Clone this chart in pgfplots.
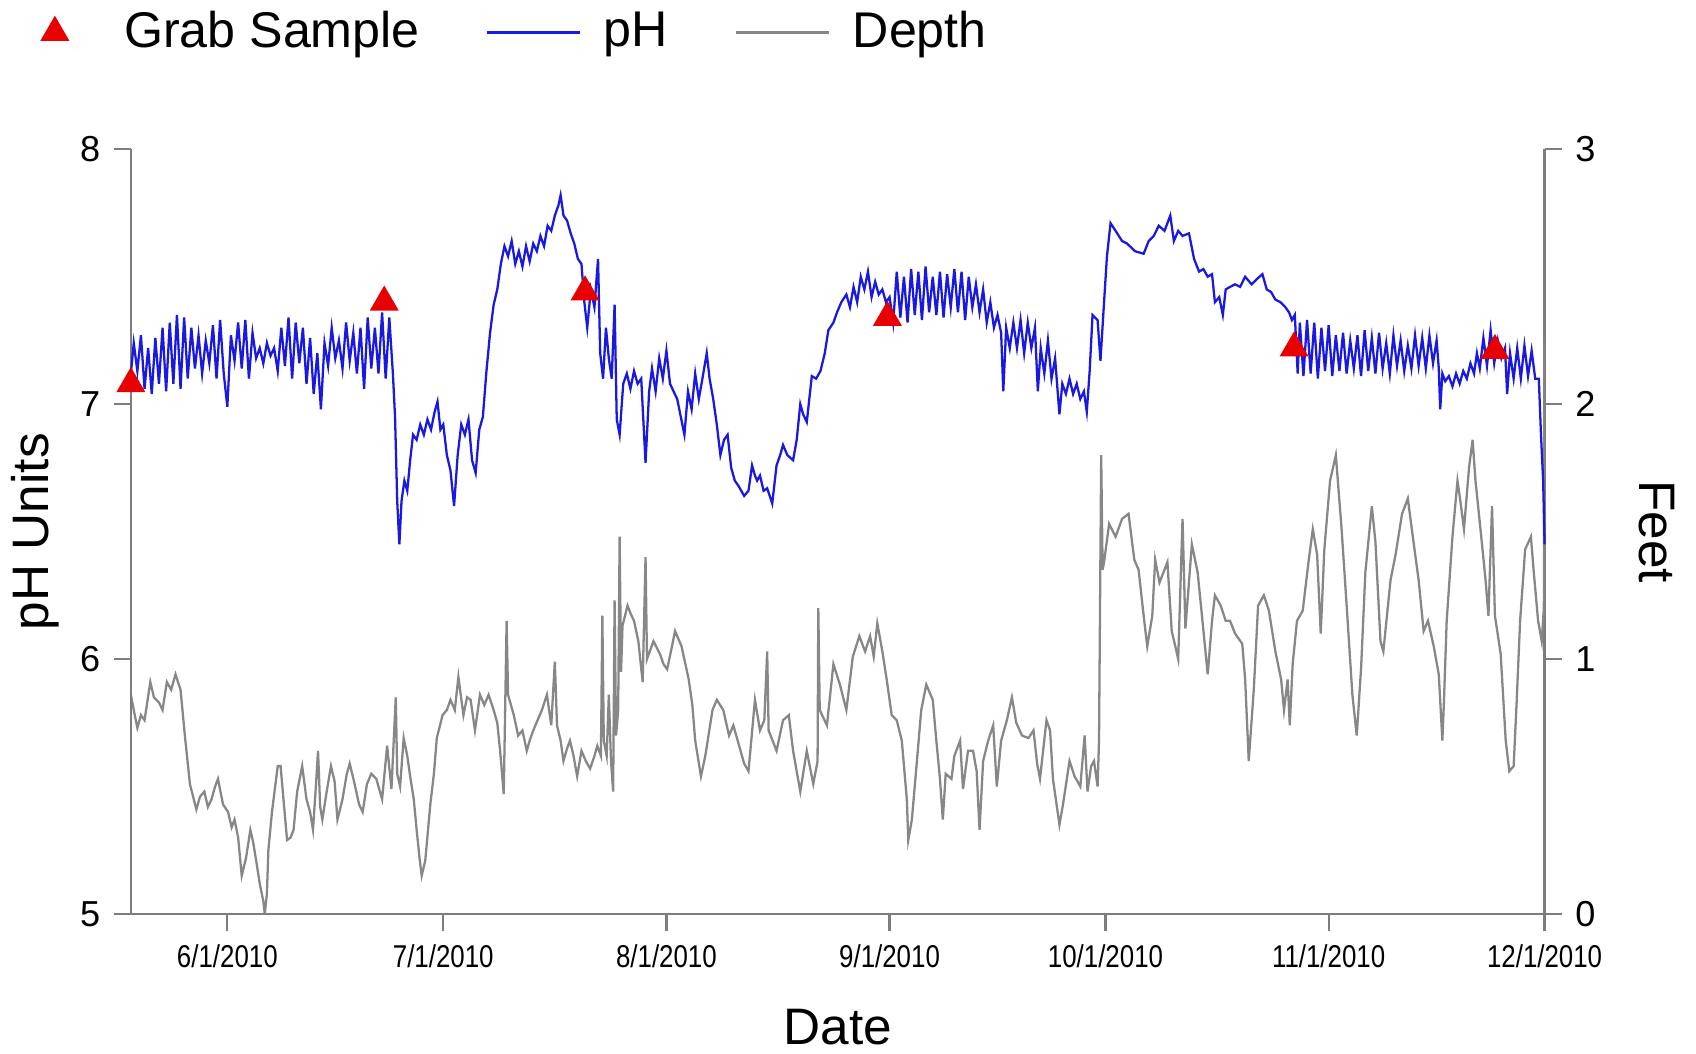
\documentclass[border=0pt]{standalone}
\usepackage{fontspec}
\setmainfont{Liberation Sans}
\newfontfamily\narrowfont[FakeStretch=0.82]{Liberation Sans}
\usepackage{pgfplots}
\usepackage{pgfplotstable}
\pgfplotsset{compat=1.18}
\definecolor{phblue}{RGB}{25,25,225}
\definecolor{depthgray}{RGB}{135,135,135}
\definecolor{axisgray}{RGB}{125,125,125}
\definecolor{grabred}{RGB}{232,0,0}

\pgfplotstableread[row sep=\\]{
x y\\
-13.4 7.12\\ -13.0 7.24\\ -12.5 7.13\\ -12.0 7.27\\ -11.5 7.06\\ -11.0 7.22\\ -10.5 7.04\\ -10.0 7.26\\
-9.5 7.08\\ -9.0 7.30\\ -8.5 7.05\\ -8.0 7.32\\ -7.5 7.08\\ -7.0 7.35\\ -6.5 7.06\\ -6.0 7.34\\
-5.5 7.10\\ -5.0 7.30\\ -4.5 7.14\\ -4.0 7.27\\ -3.5 7.12\\ -3.0 7.25\\ -2.5 7.16\\ -2.0 7.31\\
-1.5 7.10\\ -1.0 7.33\\ -0.5 7.12\\ 0.0 6.99\\ 0.5 7.27\\ 1.0 7.17\\ 1.5 7.32\\ 2.0 7.14\\
2.5 7.33\\ 3.0 7.10\\ 3.5 7.28\\ 4.0 7.18\\ 4.5 7.22\\ 5.0 7.16\\ 5.5 7.24\\ 6.0 7.19\\
6.5 7.22\\ 7.0 7.13\\ 7.5 7.30\\ 8.0 7.15\\ 8.5 7.34\\ 9.0 7.10\\ 9.5 7.32\\ 10.0 7.16\\
10.5 7.30\\ 11.0 7.08\\ 11.5 7.26\\ 12.0 7.04\\ 12.5 7.20\\ 13.0 6.98\\ 13.5 7.24\\ 14.0 7.15\\
14.5 7.30\\ 15.0 7.18\\ 15.5 7.25\\ 16.0 7.14\\ 16.5 7.32\\ 17.0 7.17\\ 17.5 7.28\\ 18.0 7.12\\
18.5 7.30\\ 19.0 7.06\\ 19.5 7.34\\ 20.0 7.14\\ 20.5 7.30\\ 21.0 7.12\\ 21.5 7.36\\ 22.0 7.10\\
22.5 7.34\\ 23.0 7.12\\ 23.3 6.95\\ 23.6 6.62\\ 23.9 6.45\\ 24.2 6.62\\ 24.6 6.70\\ 25.0 6.66\\
25.4 6.78\\ 25.8 6.88\\ 26.3 6.86\\ 26.8 6.92\\ 27.3 6.88\\ 27.8 6.94\\ 28.3 6.90\\ 28.8 6.97\\
29.2 7.01\\ 29.6 6.90\\ 30.0 6.92\\ 30.5 6.80\\ 31.0 6.74\\ 31.5 6.60\\ 32.0 6.80\\ 32.5 6.92\\
33.0 6.88\\ 33.5 6.94\\ 34.0 6.78\\ 34.5 6.73\\ 35.0 6.90\\ 35.5 6.95\\ 36.0 7.13\\ 36.5 7.28\\
37.0 7.39\\ 37.5 7.45\\ 38.0 7.55\\ 38.5 7.62\\ 39.0 7.58\\ 39.5 7.64\\ 40.0 7.55\\ 40.5 7.60\\
41.0 7.54\\ 41.5 7.62\\ 42.0 7.56\\ 42.5 7.63\\ 43.0 7.60\\ 43.5 7.66\\ 44.0 7.62\\ 44.5 7.70\\
45.0 7.68\\ 45.5 7.74\\ 46.0 7.78\\ 46.3 7.82\\ 46.7 7.74\\ 47.2 7.72\\ 47.7 7.67\\ 48.2 7.63\\
48.7 7.57\\ 49.2 7.55\\ 49.6 7.40\\ 50.0 7.30\\ 50.5 7.45\\ 51.0 7.38\\ 51.5 7.57\\ 51.8 7.20\\
52.2 7.10\\ 52.6 7.30\\ 53.0 7.18\\ 53.4 7.10\\ 53.8 7.39\\ 54.1 6.94\\ 54.5 6.88\\ 55.0 7.08\\
55.5 7.12\\ 56.0 7.06\\ 56.5 7.13\\ 57.0 7.08\\ 57.5 7.10\\ 58.1 6.77\\ 58.6 7.05\\ 59.0 7.14\\
59.5 7.05\\ 60.0 7.18\\ 60.5 7.10\\ 61.0 7.21\\ 61.5 7.08\\ 62.0 7.05\\ 62.5 7.02\\ 63.0 6.95\\
63.5 6.88\\ 64.0 7.05\\ 64.5 6.98\\ 65.0 7.12\\ 65.5 7.02\\ 66.0 7.10\\ 66.6 7.20\\ 67.0 7.10\\
67.5 7.02\\ 68.0 6.92\\ 68.5 6.80\\ 69.0 6.86\\ 69.5 6.88\\ 70.0 6.75\\ 70.5 6.70\\ 71.0 6.68\\
71.8 6.64\\ 72.4 6.66\\ 72.9 6.76\\ 73.3 6.72\\ 73.6 6.70\\ 74.0 6.72\\ 74.5 6.66\\ 75.0 6.67\\
75.7 6.61\\ 76.3 6.76\\ 76.8 6.80\\ 77.2 6.84\\ 77.8 6.80\\ 78.6 6.78\\ 79.1 6.86\\ 79.6 7.00\\
80.0 6.96\\ 80.5 6.93\\ 81.2 7.11\\ 81.8 7.10\\ 82.4 7.13\\ 83.0 7.20\\ 83.5 7.29\\ 84.2 7.32\\
84.7 7.36\\ 85.3 7.40\\ 86.0 7.43\\ 86.5 7.38\\ 87.0 7.46\\ 87.5 7.40\\ 88.0 7.50\\ 88.5 7.45\\
89.0 7.52\\ 89.5 7.42\\ 90.0 7.48\\ 90.5 7.43\\ 91.0 7.45\\ 91.5 7.40\\ 92.0 7.42\\ 92.5 7.32\\
93.0 7.52\\ 93.5 7.34\\ 94.0 7.50\\ 94.5 7.32\\ 95.0 7.53\\ 95.5 7.35\\ 96.0 7.52\\ 96.5 7.33\\
97.0 7.54\\ 97.5 7.36\\ 98.0 7.50\\ 98.5 7.35\\ 99.0 7.52\\ 99.5 7.34\\ 100.0 7.51\\ 100.5 7.38\\
101.0 7.53\\ 101.5 7.36\\ 102.0 7.52\\ 102.5 7.33\\ 103.0 7.50\\ 103.5 7.38\\ 104.0 7.47\\ 104.5 7.36\\
105.0 7.45\\ 105.5 7.32\\ 106.0 7.40\\ 106.5 7.30\\ 107.0 7.35\\ 107.5 7.28\\ 107.8 7.05\\ 108.2 7.30\\
108.7 7.22\\ 109.2 7.32\\ 109.7 7.22\\ 110.2 7.33\\ 110.7 7.20\\ 111.2 7.32\\ 111.7 7.22\\ 112.2 7.30\\
112.6 7.05\\ 113.0 7.22\\ 113.5 7.12\\ 114.0 7.25\\ 114.5 7.10\\ 115.0 7.18\\ 115.6 6.96\\ 116.0 7.08\\
116.5 7.04\\ 117.0 7.10\\ 117.5 7.04\\ 118.0 7.08\\ 118.5 7.02\\ 119.0 7.05\\ 119.4 6.97\\ 119.8 7.13\\
120.2 7.35\\ 120.9 7.33\\ 121.3 7.17\\ 121.8 7.40\\ 122.2 7.58\\ 122.7 7.71\\ 123.4 7.68\\ 124.3 7.64\\
125.0 7.63\\ 126.1 7.60\\ 127.3 7.59\\ 128.0 7.64\\ 128.7 7.66\\ 129.4 7.70\\ 130.2 7.68\\ 131.0 7.74\\
131.5 7.64\\ 132.1 7.68\\ 132.7 7.66\\ 133.6 7.67\\ 134.3 7.57\\ 135.0 7.52\\ 135.6 7.53\\ 136.2 7.50\\
136.8 7.51\\ 137.2 7.40\\ 137.8 7.42\\ 138.3 7.35\\ 138.7 7.45\\ 139.3 7.46\\ 140.0 7.47\\ 140.7 7.46\\
141.4 7.50\\ 142.3 7.47\\ 143.0 7.49\\ 143.8 7.51\\ 144.4 7.45\\ 145.0 7.44\\ 145.6 7.41\\ 146.3 7.40\\
147.0 7.38\\ 147.5 7.36\\ 147.9 7.33\\ 148.3 7.35\\ 148.7 7.12\\ 149.0 7.32\\ 149.5 7.11\\ 150.0 7.33\\
150.5 7.12\\ 151.0 7.32\\ 151.5 7.10\\ 152.0 7.30\\ 152.5 7.13\\ 153.0 7.31\\ 153.5 7.11\\ 154.0 7.27\\
154.5 7.13\\ 155.0 7.28\\ 155.5 7.12\\ 156.0 7.25\\ 156.5 7.14\\ 157.0 7.27\\ 157.5 7.11\\ 158.0 7.29\\
158.5 7.13\\ 159.0 7.26\\ 159.5 7.12\\ 160.0 7.28\\ 160.5 7.14\\ 161.0 7.24\\ 161.5 7.12\\ 162.0 7.27\\
162.5 7.15\\ 163.0 7.25\\ 163.5 7.13\\ 164.0 7.23\\ 164.5 7.14\\ 165.0 7.27\\ 165.5 7.15\\ 166.0 7.26\\
166.5 7.14\\ 167.0 7.27\\ 167.5 7.16\\ 168.0 7.25\\ 168.3 7.14\\ 168.5 6.98\\ 168.8 7.12\\ 169.2 7.09\\
169.7 7.11\\ 170.2 7.07\\ 170.7 7.12\\ 171.2 7.08\\ 171.7 7.13\\ 172.2 7.10\\ 172.7 7.16\\ 173.2 7.12\\
173.6 7.20\\ 174.0 7.14\\ 174.5 7.26\\ 175.0 7.15\\ 175.5 7.29\\ 176.0 7.16\\ 176.5 7.25\\ 177.0 7.18\\
177.5 7.22\\ 177.8 7.04\\ 178.2 7.20\\ 178.7 7.10\\ 179.2 7.22\\ 179.7 7.10\\ 180.2 7.23\\ 180.7 7.11\\
181.2 7.21\\ 181.7 7.10\\ 182.2 7.10\\ 182.5 6.88\\ 182.8 6.70\\ 183.0 6.45\\
}\phdata

\pgfplotstableread[row sep=\\]{
x y\\
-13.4 0.86\\ -13.0 0.80\\ -12.5 0.73\\ -12.0 0.78\\ -11.5 0.76\\ -10.7 0.91\\ -10.2 0.85\\ -9.5 0.83\\
-9.0 0.80\\ -8.4 0.91\\ -7.8 0.88\\ -7.2 0.94\\ -6.5 0.88\\ -5.9 0.70\\ -5.2 0.51\\ -4.3 0.41\\
-3.8 0.46\\ -3.2 0.48\\ -2.7 0.42\\ -2.2 0.45\\ -1.7 0.50\\ -1.3 0.53\\ -0.6 0.43\\ 0.1 0.40\\
0.6 0.34\\ 1.0 0.37\\ 1.5 0.30\\ 2.0 0.15\\ 2.6 0.22\\ 3.2 0.33\\ 3.6 0.28\\ 4.0 0.21\\
4.5 0.12\\ 5.0 0.05\\ 5.2 0.00\\ 5.5 0.08\\ 5.7 0.25\\ 6.2 0.40\\ 6.6 0.49\\ 7.0 0.58\\
7.4 0.58\\ 7.8 0.45\\ 8.3 0.29\\ 8.8 0.30\\ 9.2 0.33\\ 9.7 0.48\\ 10.4 0.58\\ 11.0 0.45\\
11.5 0.40\\ 11.9 0.33\\ 12.3 0.50\\ 12.6 0.64\\ 12.9 0.42\\ 13.2 0.37\\ 13.8 0.48\\ 14.4 0.58\\
14.9 0.52\\ 15.3 0.37\\ 16.0 0.45\\ 16.6 0.55\\ 17.0 0.59\\ 17.6 0.52\\ 18.3 0.43\\ 18.8 0.40\\
19.4 0.51\\ 20.0 0.55\\ 20.7 0.53\\ 21.5 0.45\\ 22.2 0.66\\ 22.8 0.49\\ 23.4 0.85\\ 23.6 0.55\\
24.0 0.50\\ 24.5 0.69\\ 25.0 0.62\\ 25.4 0.54\\ 25.9 0.45\\ 26.3 0.33\\ 26.7 0.22\\ 27.0 0.15\\
27.5 0.21\\ 28.2 0.43\\ 28.7 0.55\\ 29.1 0.69\\ 29.9 0.78\\ 30.5 0.80\\ 31.0 0.84\\ 31.6 0.80\\
32.1 0.93\\ 32.8 0.78\\ 33.3 0.85\\ 33.8 0.84\\ 34.4 0.72\\ 35.1 0.86\\ 35.7 0.82\\ 36.3 0.86\\
37.0 0.80\\ 37.5 0.75\\ 37.9 0.64\\ 38.4 0.47\\ 38.8 1.15\\ 39.0 0.86\\ 39.8 0.78\\ 40.4 0.70\\
41.0 0.72\\ 41.6 0.64\\ 42.0 0.68\\ 42.5 0.72\\ 43.1 0.76\\ 43.7 0.80\\ 44.4 0.86\\ 45.0 0.74\\
45.5 0.99\\ 45.8 0.74\\ 46.3 0.68\\ 46.7 0.60\\ 47.2 0.65\\ 47.6 0.68\\ 48.1 0.62\\ 48.6 0.54\\
49.2 0.64\\ 49.8 0.60\\ 50.4 0.57\\ 51.0 0.62\\ 51.4 0.66\\ 51.9 0.62\\ 52.1 1.17\\ 52.3 0.68\\
52.7 0.62\\ 53.0 0.86\\ 53.3 0.60\\ 53.6 0.48\\ 53.8 1.23\\ 54.0 0.70\\ 54.3 0.80\\ 54.5 1.48\\
54.7 0.95\\ 54.9 1.13\\ 55.6 1.21\\ 56.0 1.18\\ 56.5 1.15\\ 57.1 1.07\\ 57.7 0.91\\ 58.1 1.40\\
58.3 1.00\\ 59.2 1.07\\ 60.1 1.02\\ 60.6 0.98\\ 61.1 0.96\\ 61.7 1.04\\ 62.2 1.11\\ 63.1 1.05\\
64.1 0.92\\ 64.6 0.82\\ 65.0 0.68\\ 65.8 0.54\\ 66.4 0.62\\ 67.4 0.80\\ 68.0 0.84\\ 68.9 0.80\\
69.7 0.70\\ 70.3 0.74\\ 70.9 0.68\\ 71.8 0.59\\ 72.4 0.56\\ 73.3 0.84\\ 74.0 0.72\\ 74.6 0.76\\
75.0 1.03\\ 75.2 0.72\\ 76.3 0.64\\ 77.2 0.76\\ 78.0 0.78\\ 78.6 0.64\\ 79.6 0.48\\ 80.5 0.64\\
81.4 0.51\\ 82.0 0.60\\ 82.1 1.20\\ 82.3 0.80\\ 83.3 0.74\\ 84.2 0.98\\ 85.1 0.90\\ 86.0 0.80\\
86.9 1.01\\ 87.8 1.09\\ 88.6 1.03\\ 89.3 1.09\\ 89.8 1.01\\ 90.3 1.14\\ 91.0 1.03\\ 91.6 0.92\\
92.3 0.78\\ 93.0 0.76\\ 93.7 0.68\\ 94.4 0.45\\ 94.6 0.29\\ 95.1 0.37\\ 95.8 0.60\\ 96.4 0.80\\
97.1 0.90\\ 98.0 0.84\\ 98.5 0.68\\ 99.0 0.53\\ 99.4 0.37\\ 99.8 0.55\\ 100.6 0.53\\ 101.0 0.62\\
101.8 0.68\\ 102.2 0.49\\ 102.9 0.64\\ 103.6 0.64\\ 104.1 0.56\\ 104.5 0.33\\ 105.0 0.60\\ 105.7 0.68\\
106.4 0.74\\ 106.9 0.50\\ 107.5 0.68\\ 108.3 0.76\\ 109.0 0.85\\ 109.6 0.75\\ 110.4 0.70\\ 111.3 0.69\\
112.0 0.72\\ 112.5 0.59\\ 112.9 0.53\\ 113.8 0.76\\ 114.3 0.72\\ 114.7 0.53\\ 115.6 0.35\\ 116.1 0.43\\
117.0 0.60\\ 117.7 0.54\\ 118.5 0.50\\ 119.1 0.70\\ 119.5 0.48\\ 120.0 0.58\\ 120.4 0.60\\ 120.9 0.50\\
121.1 0.68\\ 121.4 1.80\\ 121.6 1.35\\ 121.8 1.38\\ 122.5 1.53\\ 123.4 1.48\\ 124.3 1.55\\ 125.2 1.57\\
126.0 1.39\\ 126.6 1.35\\ 127.3 1.17\\ 127.8 1.05\\ 128.5 1.17\\ 128.9 1.39\\ 129.5 1.30\\ 130.6 1.38\\
131.2 1.11\\ 131.7 1.05\\ 132.1 1.00\\ 132.7 1.55\\ 133.1 1.12\\ 134.0 1.45\\ 134.8 1.34\\ 135.4 1.17\\
136.2 0.94\\ 136.8 1.15\\ 137.2 1.25\\ 138.0 1.21\\ 138.7 1.15\\ 139.3 1.15\\ 140.0 1.10\\ 141.0 1.06\\
141.4 0.92\\ 141.9 0.60\\ 142.6 0.88\\ 143.2 1.21\\ 144.0 1.25\\ 144.7 1.19\\ 145.6 1.03\\ 146.4 0.92\\
146.8 0.80\\ 147.3 0.92\\ 147.6 0.74\\ 148.0 0.98\\ 148.6 1.15\\ 149.4 1.19\\ 150.2 1.38\\ 150.8 1.51\\
151.4 1.41\\ 151.9 1.10\\ 152.4 1.43\\ 153.2 1.70\\ 154.0 1.80\\ 154.8 1.51\\ 155.5 1.21\\ 156.3 0.86\\
156.9 0.70\\ 157.5 0.96\\ 158.1 1.34\\ 159.0 1.60\\ 159.5 1.46\\ 160.2 1.07\\ 160.6 1.03\\ 161.6 1.31\\
162.3 1.41\\ 163.2 1.57\\ 164.0 1.63\\ 164.6 1.50\\ 165.5 1.31\\ 166.2 1.11\\ 166.8 1.15\\ 167.6 1.05\\
168.3 0.94\\ 168.8 0.68\\ 169.0 0.82\\ 169.4 1.15\\ 170.2 1.48\\ 170.9 1.70\\ 171.3 1.62\\ 171.8 1.51\\
172.5 1.75\\ 173.0 1.86\\ 173.4 1.70\\ 174.2 1.48\\ 174.8 1.31\\ 175.2 1.17\\ 175.7 1.60\\ 176.1 1.17\\
176.9 1.02\\ 177.6 0.68\\ 178.1 0.56\\ 178.7 0.58\\ 179.1 0.82\\ 179.6 1.15\\ 180.3 1.43\\ 181.1 1.48\\
181.5 1.34\\ 182.1 1.15\\ 182.6 1.07\\ 182.9 1.20\\ 183.0 2.25\\
}\depthdata

\pgfplotstableread[row sep=\\]{
x y\\
-13.4 7.08\\ 21.8 7.40\\ 49.7 7.44\\ 91.7 7.34\\ 148.2 7.22\\ 176.1 7.21\\
}\grabdata

\pgfplotsset{
  commonaxis/.style={
    scale only axis, width=13.07cm, height=7.07cm,
    xmin=-13.4, xmax=183,
    axis line style={axisgray, line width=0.6pt},
    tick style={axisgray, line width=0.6pt},
    major tick length=1.6mm, tick align=outside,
    /pgf/number format/assume math mode=true,
    yticklabel style={font=\fontsize{9.5}{10}\selectfont, black},
    label style={font=\fontsize{13.5}{15}\selectfont},
  },
  linelegend/.style={legend image code/.code={\draw[##1] (0cm,0cm) -- (0.86cm,0cm);}},
  trilegend/.style={legend image code/.code={\path[draw=none] (0cm,0cm) -- (0.86cm,0cm); \draw[##1] plot coordinates {(0.43cm,0cm)};}},
}

\begin{document}
\begin{tikzpicture}
\useasboundingbox (-1.21cm,-1.29cm) rectangle (14.47cm,8.45cm);
\begin{axis}[commonaxis,
  axis y line*=right, axis x line=none,
  ymin=0, ymax=3, ytick={0,1,2,3},
  ylabel={Feet},
  ylabel style={at={(axis description cs:1.0796,0.5)}, anchor=center, rotate=180},
]
\addplot[depthgray, line width=0.6pt] table[x=x,y=y] {\depthdata};
\end{axis}
\begin{axis}[commonaxis,
  axis y line*=left, axis x line*=bottom,
  ymin=5, ymax=8, ytick={5,6,7,8},
  xtick={0,30,61,92,122,153,183},
  xticklabels={6/1/2010,7/1/2010,8/1/2010,9/1/2010,10/1/2010,11/1/2010,12/1/2010},
  xticklabel style={font=\narrowfont\fontsize{8.3}{9}\selectfont, black},
  xlabel={Date},
  xlabel style={at={(axis description cs:0.5,-0.1485)}, anchor=center},
  ylabel={pH Units},
  ylabel style={at={(axis description cs:-0.0673,0.5)}, anchor=center},
  clip=false,
  legend columns=3,
  linelegend,
  legend style={draw=none, fill=none, inner sep=0pt,
    at={(axis description cs:-0.0872,1.1528)}, anchor=west,
    font=\fontsize{13.2}{15}\selectfont,
    /tikz/every odd column/.append style={column sep=1.4mm},
    /tikz/every even column/.append style={column sep=5.4mm}},
]
\addplot[only marks, mark=triangle*, mark size=4pt,
  mark options={fill=grabred, draw=grabred}, trilegend]
  table[x=x,y=y] {\grabdata};
\addlegendentry{Grab Sample}
\addplot[phblue, line width=0.6pt] table[x=x,y=y] {\phdata};
\addlegendentry{pH}
\addlegendimage{depthgray, line width=0.8pt}
\addlegendentry{Depth}
\end{axis}
\end{tikzpicture}
\end{document}
